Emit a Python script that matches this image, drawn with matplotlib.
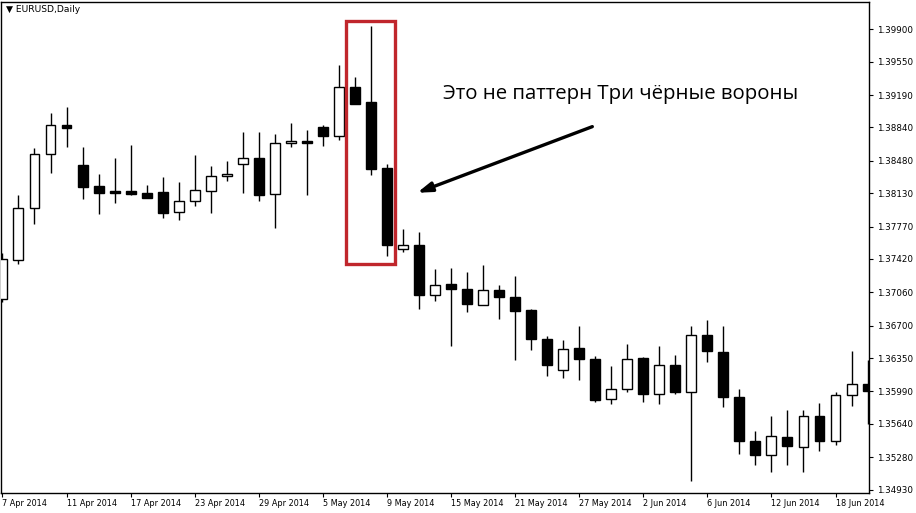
import numpy as np
import matplotlib.pyplot as plt
from matplotlib import font_manager
from matplotlib.patches import Rectangle

# EURUSD daily, 7 Apr 2014 .. 20 Jun 2014
opens = [1.36987, 1.37404, 1.37969, 1.38552, 1.38868, 1.38436, 1.38210, 1.38159, 1.38156, 1.38134,
         1.38145, 1.37926, 1.38045, 1.38159, 1.38314, 1.38450, 1.38512, 1.38120, 1.38670, 1.38695,
         1.38846, 1.38752, 1.39274, 1.39113, 1.38401, 1.37527, 1.37573, 1.37026, 1.37152, 1.37098,
         1.36923, 1.37088, 1.37012, 1.36872, 1.36559, 1.36221, 1.36462, 1.36343, 1.35904, 1.36016,
         1.36354, 1.35958, 1.36279, 1.35980, 1.36602, 1.36419, 1.35926, 1.35459, 1.35300, 1.35498,
         1.35386, 1.35728, 1.35451, 1.35952, 1.36070]
highs = [1.37487, 1.38112, 1.38623, 1.38994, 1.39059, 1.38630, 1.38339, 1.38512, 1.38652, 1.38217,
         1.38303, 1.38253, 1.38544, 1.38425, 1.38476, 1.38792, 1.38792, 1.38767, 1.38886, 1.38814,
         1.38868, 1.39515, 1.39382, 1.39936, 1.38444, 1.37742, 1.37710, 1.37314, 1.37322, 1.37274,
         1.37350, 1.37142, 1.37231, 1.36883, 1.36591, 1.36548, 1.36692, 1.36376, 1.36260, 1.36505,
         1.36362, 1.36476, 1.36386, 1.36699, 1.36764, 1.36692, 1.36020, 1.35567, 1.35721, 1.35793,
         1.35793, 1.35869, 1.35987, 1.36430, 1.36332]
lows = [1.36951, 1.37368, 1.37796, 1.38353, 1.38634, 1.38069, 1.37904, 1.38029, 1.38112, 1.38080,
        1.37857, 1.37846, 1.37997, 1.37915, 1.38267, 1.38137, 1.38051, 1.37749, 1.38627, 1.38116,
        1.38644, 1.38706, 1.39097, 1.38331, 1.37447, 1.37494, 1.36883, 1.36969, 1.36476, 1.36843,
        1.36923, 1.36775, 1.36332, 1.36440, 1.36152, 1.36135, 1.36117, 1.35872, 1.35850, 1.35980,
        1.35872, 1.35858, 1.35958, 1.35020, 1.36303, 1.35818, 1.35318, 1.35200, 1.35117, 1.35200,
        1.35117, 1.35351, 1.35408, 1.35829, 1.35639]
closes = [1.37419, 1.37969, 1.38552, 1.38864, 1.38838, 1.38202, 1.38137, 1.38134, 1.38126, 1.38083,
          1.37921, 1.38045, 1.38163, 1.38314, 1.38339, 1.38512, 1.38116, 1.38670, 1.38695, 1.38677,
          1.38752, 1.39274, 1.39097, 1.38393, 1.37573, 1.37566, 1.37026, 1.37142, 1.37091, 1.36929,
          1.37088, 1.37004, 1.36854, 1.36551, 1.36279, 1.36451, 1.36336, 1.35901, 1.36020, 1.36343,
          1.35958, 1.36279, 1.35980, 1.36599, 1.36422, 1.35926, 1.35451, 1.35300, 1.35513, 1.35397,
          1.35728, 1.35451, 1.35952, 1.36070, 1.35990]

date_labels = ["7 Apr 2014", "11 Apr 2014", "17 Apr 2014", "23 Apr 2014", "29 Apr 2014",
               "5 May 2014", "9 May 2014", "15 May 2014", "21 May 2014", "27 May 2014",
               "2 Jun 2014", "6 Jun 2014", "12 Jun 2014", "18 Jun 2014"]
price_ticks = [1.39900, 1.39550, 1.39190, 1.38840, 1.38480, 1.38130, 1.37770, 1.37420,
               1.37060, 1.36700, 1.36350, 1.35990, 1.35640, 1.35280, 1.34930]

# a narrow font for the axis labels, if one is installed
narrow = None
xsize = 6.3
for f in font_manager.fontManager.ttflist:
    fn = f.fname.replace('-', '').replace('_', '')
    if 'LiberationSansNarrowRegular' in fn:
        narrow, xsize = f.fname, 7.3
        break
    if fn.endswith('DejaVuSansCondensed.ttf'):
        narrow, xsize = f.fname, 6.5
if narrow:
    xfont = font_manager.FontProperties(fname=narrow, size=xsize)
else:
    xfont = font_manager.FontProperties(family='DejaVu Sans', size=xsize)

W, H = 916, 513
fig = plt.figure(figsize=(W / 100, H / 100), dpi=100)
ax = fig.add_axes([1 / W, 1 - 492.5 / H, 868 / W, 490.5 / H])

bw = 0.62
for i in range(len(opens)):
    o, h, l, c = opens[i], highs[i], lows[i], closes[i]
    ax.vlines(i, l, h, color='black', lw=1.0, zorder=2)
    lo, hi = min(o, c), max(o, c)
    face = 'white' if c > o else 'black'
    ax.add_patch(Rectangle((i - bw / 2, lo), bw, max(hi - lo, 0.00003),
                           facecolor=face, edgecolor='black', lw=1.0, zorder=3))

ax.set_xlim(-0.09, 54.09)
ax.set_ylim(1.34898, 1.40195)

ax.set_xticks(np.arange(0, 4 * len(date_labels), 4))
ax.set_xticklabels(date_labels, ha='left', fontproperties=xfont)
ax.set_yticks(price_ticks)
ax.set_yticklabels([f"{p:.5f}" for p in price_ticks], fontsize=6.3)
ax.yaxis.tick_right()
ax.tick_params(axis='both', direction='out', length=3, width=0.8, colors='black')
ax.tick_params(axis='x', pad=2)
ax.tick_params(axis='y', pad=3)
for sp in ax.spines.values():
    sp.set_linewidth(1.0)

ax.text(5 / 868, 1 - 7 / 490, "\u25bc EURUSD,Daily", transform=ax.transAxes,
        fontsize=6.6, va='center', ha='left', family=['DejaVu Sans'])

# red frame round the three black candles
ax.add_patch(Rectangle((21.45, 1.37368), 3.08, 0.02622, fill=False,
                       edgecolor='#c0262c', lw=2.4, zorder=4))

ax.annotate("", xy=(25.89, 1.38135), xytext=(36.82, 1.38849),
            arrowprops=dict(arrowstyle='-|>,head_length=0.85,head_width=0.28',
                            color='black', lw=2.4, shrinkA=0, shrinkB=0))
ax.text(27.5, 1.39200, "Это не паттерн Три чёрные вороны", fontsize=14.7,
        va='center', ha='left', family=['Open Sans', 'DejaVu Sans'])

fig.savefig("out.png", dpi=100)
